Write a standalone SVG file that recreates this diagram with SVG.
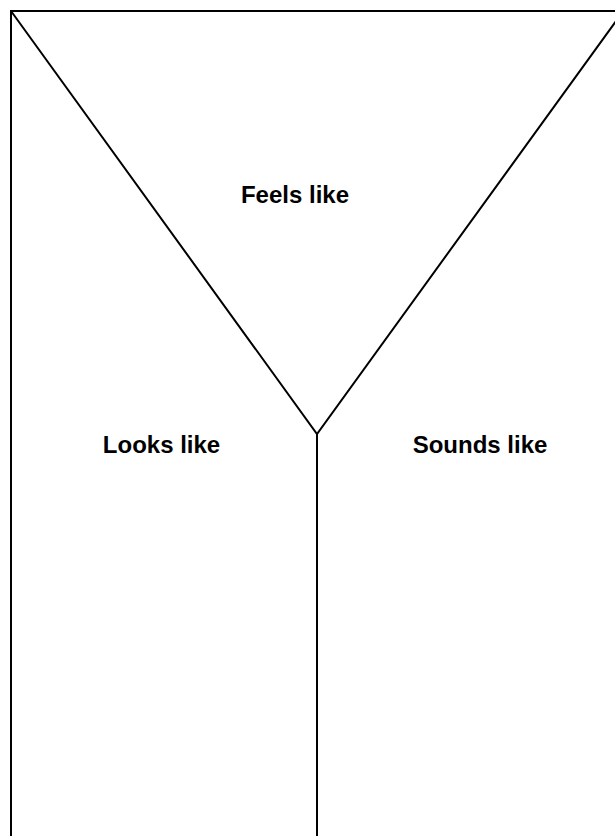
<svg xmlns="http://www.w3.org/2000/svg" width="615" height="836" viewBox="0 0 615 836">
<style>
.ln{fill:none;stroke:#000;stroke-width:2}
.lb{font-family:"Liberation Sans",Arial,sans-serif;font-weight:bold;font-size:24px;fill:#000;text-anchor:middle}
</style>
<rect width="615" height="836" fill="#fff"/>
<g id="connectors">
<path class="ln" d="M11,846 L11,11 L630,11"/>
<path class="ln" d="M11,11 L317,434 L624,10"/>
<path class="ln" d="M317,434 L317,846"/>
</g>
<g id="feels"><text class="lb" x="295" y="203">Feels like</text></g>
<g id="looks"><text class="lb" x="161.5" y="453">Looks like</text></g>
<g id="sounds"><text class="lb" x="480" y="453">Sounds like</text></g>
</svg>
